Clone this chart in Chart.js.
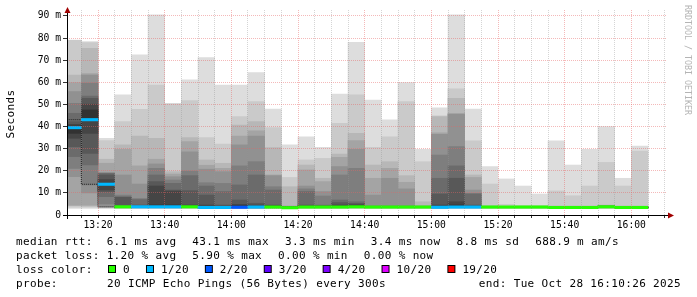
<!DOCTYPE html>
<html>
<head>
<meta charset="utf-8">
<script src="https://cdn.jsdelivr.net/npm/chart.js@4.4.1/dist/chart.umd.min.js"></script>
<style>
  html, body { margin: 0; padding: 0; background: #fff; }
  canvas { display: block; }
</style>
</head>
<body>
<canvas id="chart" width="697" height="297"></canvas>
<script>
// one bar per 5 minute step (start time of the step)
const barTimes = ['13:10', '13:15', '13:20', '13:25', '13:30', '13:35', '13:40', '13:45', '13:50', '13:55',
                  '14:00', '14:05', '14:10', '14:15', '14:20', '14:25', '14:30', '14:35', '14:40', '14:45',
                  '14:50', '14:55', '15:00', '15:05', '15:10', '15:15', '15:20', '15:25', '15:30', '15:35',
                  '15:40', '15:45', '15:50', '15:55', '16:00'];

// 20 sorted ping round trip times per step, in ms
const pings = [
  [3.0, 3.5, 4.2, 4.5, 17.3, 21.1, 26.4, 30.9, 34.7, 36.9, 40.2, 41.0, 42.2, 46.0, 50.5, 55.8, 59.9, 63.3, 79.0, 79.1],
  [3.0, 3.5, 4.0, 4.5, 10.0, 13.6, 22.6, 27.9, 36.9, 43.0, 47.5, 50.1, 52.8, 53.8, 59.6, 63.3, 64.0, 75.4, 78.0, 78.4],
  [3.0, 3.2, 3.4, 3.6, 3.8, 5.0, 8.3, 10.5, 11.3, 13.5, 14.3, 16.0, 18.1, 18.8, 19.0, 19.1, 23.4, 25.2, 33.6, 34.7],
  [3.0, 3.1, 3.2, 3.3, 3.4, 3.4, 3.5, 3.5, 3.6, 3.7, 3.8, 3.9, 8.0, 8.3, 9.0, 18.1, 29.7, 31.7, 42.2, 54.3],
  [3.0, 3.1, 3.2, 3.3, 3.3, 3.4, 3.4, 3.5, 3.5, 3.6, 3.8, 4.0, 4.5, 7.0, 7.5, 14.0, 22.2, 35.7, 47.8, 72.4],
  [3.0, 3.1, 3.2, 3.3, 3.3, 3.4, 3.4, 3.5, 3.5, 3.6, 4.5, 13.1, 15.1, 18.1, 21.1, 23.1, 25.2, 34.7, 58.8, 90.5],
  [3.0, 3.1, 3.2, 3.3, 3.3, 3.4, 3.4, 3.5, 3.5, 3.6, 4.5, 10.8, 11.3, 14.3, 15.8, 17.3, 18.5, 19.6, 50.2, 50.5],
  [3.0, 3.1, 3.2, 3.3, 3.3, 3.4, 3.4, 3.5, 3.5, 3.6, 4.0, 4.5, 11.0, 17.8, 19.9, 28.6, 33.2, 35.0, 51.7, 61.1],
  [3.0, 3.0, 3.1, 3.1, 3.2, 3.2, 3.3, 3.3, 3.3, 3.4, 3.8, 4.5, 9.0, 13.1, 14.6, 20.7, 22.5, 24.9, 35.0, 71.2],
  [3.0, 3.0, 3.1, 3.1, 3.2, 3.2, 3.3, 3.3, 3.3, 3.4, 3.7, 4.0, 4.5, 10.6, 14.3, 19.6, 21.1, 23.4, 32.1, 58.8],
  [3.0, 3.1, 3.1, 3.2, 3.2, 3.3, 3.3, 3.4, 3.4, 3.5, 4.2, 4.8, 6.8, 13.6, 22.2, 31.7, 35.7, 40.7, 44.5, 58.8],
  [3.0, 3.1, 3.1, 3.2, 3.2, 3.3, 3.3, 3.4, 3.4, 3.5, 4.0, 4.5, 5.3, 18.1, 24.1, 35.7, 38.1, 42.2, 51.3, 64.4],
  [3.0, 3.1, 3.2, 3.3, 3.3, 3.4, 3.4, 3.5, 3.5, 3.6, 3.9, 4.2, 4.5, 11.3, 12.8, 17.8, 18.1, 30.5, 39.5, 47.9],
  [3.0, 3.0, 3.1, 3.1, 3.1, 3.2, 3.2, 3.2, 3.3, 3.3, 3.4, 3.5, 3.6, 3.7, 3.8, 3.9, 4.1, 12.8, 17.0, 31.7],
  [3.0, 3.1, 3.2, 3.3, 3.3, 3.4, 3.4, 3.5, 3.5, 3.6, 3.8, 4.1, 4.5, 10.6, 11.8, 13.1, 20.4, 22.6, 24.9, 35.4],
  [3.0, 3.1, 3.2, 3.3, 3.3, 3.4, 3.4, 3.5, 3.5, 3.6, 3.8, 4.0, 4.2, 4.5, 8.6, 10.6, 15.1, 16.6, 25.6, 30.6],
  [3.0, 3.1, 3.2, 3.3, 3.3, 3.4, 3.4, 3.5, 3.5, 3.6, 4.0, 4.5, 5.6, 6.8, 18.1, 21.9, 26.1, 27.6, 41.5, 54.7],
  [3.0, 3.1, 3.2, 3.3, 3.3, 3.4, 3.4, 3.5, 3.5, 3.6, 4.2, 4.6, 5.2, 6.0, 21.1, 29.7, 33.6, 36.9, 54.3, 78.1],
  [3.0, 3.1, 3.2, 3.3, 3.3, 3.4, 3.4, 3.5, 3.5, 3.6, 3.7, 3.8, 3.8, 3.9, 4.1, 9.0, 16.6, 22.6, 30.6, 52.0],
  [3.0, 3.1, 3.2, 3.3, 3.3, 3.4, 3.4, 3.5, 3.5, 3.6, 3.7, 3.8, 3.8, 3.9, 4.1, 16.6, 21.1, 24.1, 35.4, 43.0],
  [3.0, 3.1, 3.2, 3.3, 3.3, 3.4, 3.4, 3.5, 3.5, 3.6, 3.7, 3.8, 3.8, 3.9, 4.1, 11.8, 14.8, 17.8, 51.3, 59.9],
  [3.0, 3.1, 3.2, 3.3, 3.3, 3.4, 3.4, 3.5, 3.5, 3.6, 3.7, 3.7, 3.8, 3.8, 3.9, 4.0, 4.1, 6.0, 24.1, 29.7],
  [3.0, 3.1, 3.1, 3.2, 3.2, 3.3, 3.3, 3.4, 3.4, 3.5, 4.0, 4.5, 9.5, 16.6, 27.1, 36.5, 37.2, 44.5, 44.9, 48.5],
  [3.0, 3.1, 3.2, 3.3, 3.3, 3.4, 3.4, 3.5, 3.5, 3.7, 4.5, 6.0, 16.6, 22.2, 30.9, 45.5, 46.0, 52.8, 57.0, 90.5],
  [3.0, 3.1, 3.2, 3.3, 3.3, 3.4, 3.4, 3.5, 3.5, 3.6, 3.9, 4.2, 4.5, 9.5, 9.8, 11.3, 17.0, 18.1, 33.5, 47.9],
  [3.0, 3.1, 3.2, 3.3, 3.3, 3.4, 3.4, 3.5, 3.5, 3.6, 3.7, 3.7, 3.8, 3.8, 3.9, 3.9, 4.0, 4.1, 14.0, 21.9],
  [3.0, 3.1, 3.2, 3.3, 3.3, 3.4, 3.4, 3.5, 3.5, 3.6, 3.7, 3.7, 3.8, 3.8, 3.9, 3.9, 3.9, 4.0, 4.8, 16.3],
  [3.0, 3.1, 3.2, 3.3, 3.3, 3.4, 3.4, 3.5, 3.5, 3.6, 3.7, 3.7, 3.8, 3.8, 3.9, 3.9, 4.0, 4.0, 4.1, 13.1],
  [3.0, 3.1, 3.2, 3.3, 3.3, 3.4, 3.4, 3.5, 3.5, 3.6, 3.7, 3.7, 3.8, 3.8, 3.9, 3.9, 4.0, 4.0, 4.1, 9.5],
  [3.0, 3.0, 3.1, 3.1, 3.2, 3.2, 3.3, 3.3, 3.3, 3.4, 3.5, 3.5, 3.6, 3.6, 3.7, 3.8, 3.9, 4.0, 10.9, 33.5],
  [3.0, 3.0, 3.1, 3.1, 3.2, 3.2, 3.3, 3.3, 3.3, 3.4, 3.5, 3.5, 3.6, 3.6, 3.7, 3.8, 3.9, 4.0, 8.7, 22.6],
  [3.0, 3.0, 3.1, 3.1, 3.2, 3.2, 3.3, 3.3, 3.3, 3.4, 3.5, 3.5, 3.6, 3.6, 3.7, 3.8, 3.9, 4.0, 13.1, 29.7],
  [3.0, 3.1, 3.2, 3.3, 3.3, 3.4, 3.4, 3.5, 3.5, 3.6, 3.8, 3.9, 3.9, 4.0, 4.1, 4.2, 4.3, 4.5, 23.8, 40.0],
  [3.0, 3.0, 3.1, 3.1, 3.2, 3.2, 3.3, 3.3, 3.3, 3.4, 3.5, 3.5, 3.6, 3.6, 3.7, 3.8, 3.9, 4.0, 13.1, 16.6],
  [3.0, 3.0, 3.1, 3.1, 3.2, 3.2, 3.3, 3.3, 3.3, 3.4, 3.5, 3.5, 3.6, 3.6, 3.7, 3.8, 3.9, 4.0, 28.9, 31.2]
];

// median rtt (ms) and lost pings (of 20) per step
const medians = [39.5, 43.1, 13.9, 3.7, 3.7, 3.7, 3.7, 3.7, 3.4, 3.4, 3.5, 3.6, 3.6, 3.3, 3.6, 3.6, 3.6, 3.7,
                 3.6, 3.6, 3.6, 3.6, 3.5, 3.6, 3.6, 3.6, 3.6, 3.6, 3.6, 3.4, 3.4, 3.4, 3.7, 3.4, 3.4];
const losses = [1, 1, 1, 0, 1, 1, 1, 0, 1, 1, 2, 1, 0, 0, 0, 0, 0, 0, 0, 0, 0, 0, 1, 1, 1, 0, 0, 0, 0, 0, 0, 0, 0, 0, 0];

// loss colour legend
const lossLevels = [0, 1, 2, 3, 4, 10, 19];
const lossLabels = ['0', '1/20', '2/20', '3/20', '4/20', '10/20', '19/20'];
const lossColors = ['#26ff00', '#00b8ff', '#0059ff', '#5e00ff', '#7e00ff', '#dd00ff', '#ff0000'];

// axes
const xRange = ['13:10:42', '16:10:42'];
const xTickLabels = ['13:20', '13:40', '14:00', '14:20', '14:40', '15:00', '15:20', '15:40', '16:00'];
const yTickValues = [0, 10, 20, 30, 40, 50, 60, 70, 80, 90];
const yTickLabels = ['0', '10 m', '20 m', '30 m', '40 m', '50 m', '60 m', '70 m', '80 m', '90 m'];
const yMax = 92.7;

// legend text
const rttStats = ['6.1 ms avg', '43.1 ms max', '3.3 ms min', '3.4 ms now', '8.8 ms sd', '688.9 m am/s'];
const lossStats = ['1.20 % avg', '5.90 % max', '0.00 % min', '0.00 % now'];
const probeText = '20 ICMP Echo Pings (56 Bytes) every 300s';
const endText = 'end: Tue Oct 28 16:10:26 2025';

// minutes after 13:00
function toMin(s) {
  const p = s.split(':').map(Number);
  return (p[0] - 13) * 60 + p[1] + (p[2] || 0) / 60;
}

function lossColor(n) {
  let col = lossColors[0];
  lossLevels.forEach((lv, i) => { if (n >= lv) col = lossColors[i]; });
  return col;
}

const STEP = 5;
const centers = barTimes.map(t => toMin(t) + STEP / 2);
const MONO = '"DejaVu Sans Mono", "Liberation Mono", monospace';

// smoke: band k spans ping k .. ping 21-k, darker towards the middle
const datasets = [];
for (let k = 1; k <= 10; k++) {
  const g = Math.floor(190 / 10 * (10 - k)) + 50;
  datasets.push({
    type: 'bar',
    data: pings.map((p, i) => ({ x: centers[i], y: [p[k - 1], p[20 - k]] })),
    backgroundColor: `rgb(${g},${g},${g})`,
    order: 12 - k,
    grouped: false,
    barPercentage: 1,
    categoryPercentage: 1,
    borderWidth: 0
  });
}

// median step line (thin dotted)
const stepData = barTimes.map((t, i) => ({ x: toMin(t), y: medians[i] }));
stepData.push({ x: toMin(barTimes[barTimes.length - 1]) + STEP, y: medians[medians.length - 1] });
datasets.push({
  type: 'line',
  data: stepData,
  stepped: 'after',
  borderColor: '#202020',
  borderWidth: 1,
  borderDash: [1, 1],
  pointRadius: 0,
  order: 1
});

// median coloured by loss
const MED_HALF = 0.55;
datasets.push({
  type: 'bar',
  data: medians.map((m, i) => ({ x: centers[i], y: [m - MED_HALF, m + MED_HALF] })),
  backgroundColor: losses.map(lossColor),
  order: 0,
  grouped: false,
  barPercentage: 1,
  categoryPercentage: 1,
  borderWidth: 0
});

const gridColor = ctx => {
  if (!ctx.tick) return 'rgba(0,0,0,0)';
  if (ctx.tick.value === 0 && ctx.scale.axis === 'y') return 'rgba(0,0,0,0)';
  return ctx.tick.major ? 'rgba(230,100,100,0.45)' : 'rgba(150,150,150,0.4)';
};

const decor = {
  id: 'decor',
  beforeDraw(chart) {
    const c = chart.ctx;
    c.save();
    c.fillStyle = '#fff';
    c.fillRect(0, 0, chart.width, chart.height);
    c.restore();
  },
  afterDraw(chart) {
    const c = chart.ctx;
    const { left, right, top, bottom } = chart.chartArea;
    c.save();

    // axis lines and arrows
    c.strokeStyle = '#000';
    c.lineWidth = 1;
    c.beginPath();
    c.moveTo(left - 4, bottom + 0.5);
    c.lineTo(right + 2, bottom + 0.5);
    c.moveTo(left + 0.5, bottom + 4);
    c.lineTo(left + 0.5, top + 2);
    c.stroke();
    c.fillStyle = '#a00000';
    c.beginPath();
    c.moveTo(right + 1, bottom - 2.5);
    c.lineTo(right + 7, bottom + 0.5);
    c.lineTo(right + 1, bottom + 3.5);
    c.closePath();
    c.fill();
    c.beginPath();
    c.moveTo(left - 2.5, top + 3);
    c.lineTo(left + 0.5, top - 3);
    c.lineTo(left + 3.5, top + 3);
    c.closePath();
    c.fill();

    // y title
    c.fillStyle = '#000';
    c.font = '11px ' + MONO;
    if ('letterSpacing' in c) c.letterSpacing = '0.35px';
    c.textAlign = 'center';
    c.textBaseline = 'middle';
    c.save();
    c.translate(11, 114);
    c.rotate(-Math.PI / 2);
    c.fillText('Seconds', 0, 0);
    c.restore();

    // legend rows
    c.textAlign = 'left';
    c.textBaseline = 'alphabetic';
    const gap = 16;
    const row = (items, y) => {
      let x = 16;
      items.forEach(t => {
        c.fillText(t, x, y);
        x += c.measureText(t).width + gap;
      });
    };
    row(['median rtt:  ' + rttStats[0]].concat(rttStats.slice(1)), 245);
    row(['packet loss: ' + lossStats[0]].concat(lossStats.slice(1)), 259);

    c.fillText('loss color:', 16, 273);
    let bx = 108;
    lossLabels.forEach((lab, i) => {
      c.fillStyle = '#000';
      c.fillRect(bx, 265, 8, 8);
      c.fillStyle = lossColors[i];
      c.fillRect(bx + 1, 266, 6, 6);
      c.fillStyle = '#000';
      c.fillText(lab, bx + 15, 273);
      bx += 15 + c.measureText(lab).width + gap;
    });

    c.fillText('probe:', 16, 287);
    c.fillText(probeText, 107, 287);
    c.textAlign = 'right';
    c.fillText(endText, 681, 287);

    // watermark
    c.fillStyle = '#b4b4b4';
    c.font = '8.3px ' + MONO;
    if ('letterSpacing' in c) c.letterSpacing = '0px';
    c.textAlign = 'left';
    c.textBaseline = 'middle';
    c.save();
    c.translate(687, 5);
    c.rotate(Math.PI / 2);
    c.fillText('RRDTOOL / TOBI OETIKER', 0, 0);
    c.restore();

    c.restore();
  }
};

new Chart(document.getElementById('chart'), {
  type: 'bar',
  data: { datasets },
  options: {
    responsive: false,
    devicePixelRatio: 1,
    animation: false,
    layout: { padding: { top: 10, right: 30, bottom: 0, left: 0 } },
    plugins: { legend: { display: false }, tooltip: { enabled: false }, title: { display: false } },
    scales: {
      x: {
        type: 'linear',
        min: toMin(xRange[0]),
        max: toMin(xRange[1]),
        offset: false,
        afterBuildTicks(scale) {
          const majors = xTickLabels.map(toMin);
          const ticks = [];
          for (let v = 15; v <= scale.max; v += STEP) {
            ticks.push({ value: v, major: majors.includes(v) });
          }
          scale.ticks = ticks;
        },
        afterFit(scale) { scale.height = 82; },
        grid: { offset: false, z: 1, color: gridColor, lineWidth: 1, tickLength: 3, tickColor: '#333' },
        border: { display: false, dash: [1, 1] },
        ticks: {
          autoSkip: false,
          maxRotation: 0,
          padding: 2,
          color: '#000',
          font: { family: MONO, size: 9.7 },
          callback(value) {
            const i = xTickLabels.map(toMin).indexOf(value);
            return i >= 0 ? xTickLabels[i] : '';
          }
        }
      },
      y: {
        type: 'linear',
        min: 0,
        max: yMax,
        afterBuildTicks(scale) {
          const ticks = [];
          for (let v = 0; v <= 90; v += 5) ticks.push({ value: v, major: v % 10 === 0 });
          scale.ticks = ticks;
        },
        afterFit(scale) { scale.width = 67; },
        grid: { z: 1, color: gridColor, lineWidth: 1, tickLength: 4, tickColor: '#333' },
        border: { display: false, dash: [1, 1] },
        ticks: {
          padding: 2,
          color: '#000',
          font: { family: MONO, size: 9.7 },
          callback(value) {
            const i = yTickValues.indexOf(value);
            return i >= 0 ? yTickLabels[i] : '';
          }
        }
      }
    }
  },
  plugins: [decor]
});
</script>
</body>
</html>
